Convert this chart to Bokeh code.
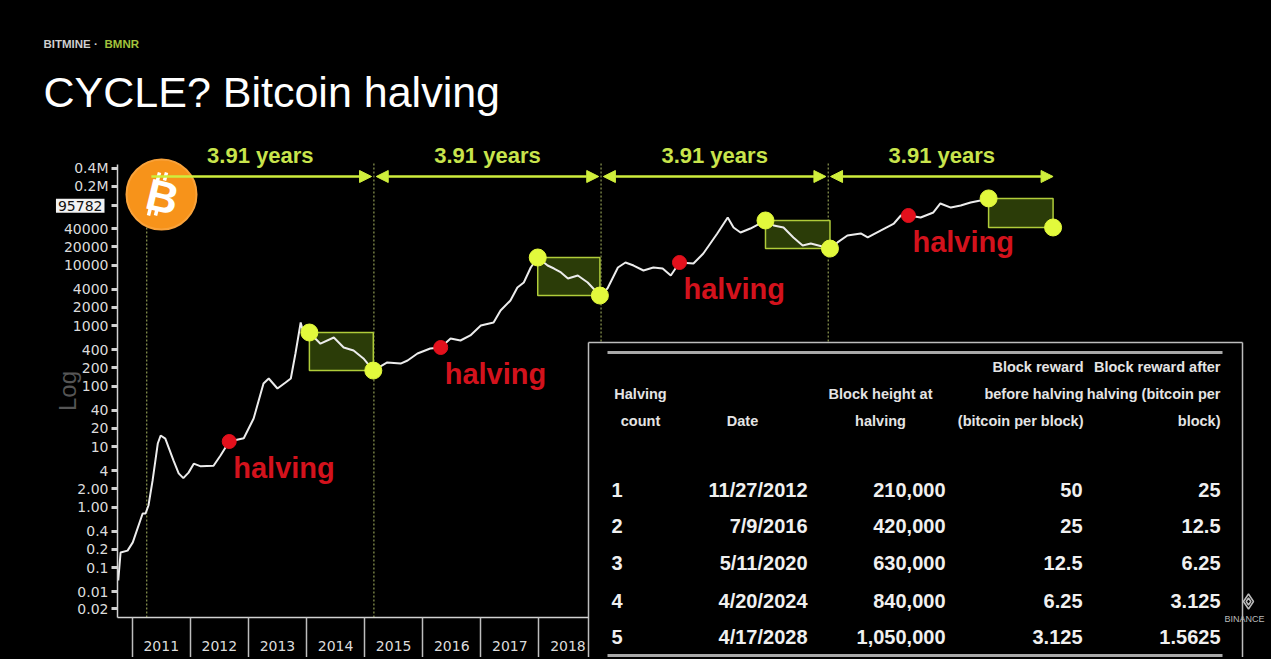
import math
from bokeh.plotting import figure
from bokeh.models import Range1d, LinearScale, FixedTicker, Label, Arrow, NormalHead
from bokeh.core.properties import value
from bokeh.embed import file_html
from bokeh.resources import INLINE

# ---------------- data ----------------
dates = [2010.76, 2010.80, 2010.92, 2011.01, 2011.18, 2011.23, 2011.28, 2011.35, 2011.44, 2011.49,
         2011.57, 2011.71, 2011.80, 2011.88, 2011.97, 2012.06, 2012.18, 2012.40, 2012.52, 2012.67,
         2012.92, 2013.09, 2013.26, 2013.35, 2013.50, 2013.64, 2013.73, 2013.81, 2013.90, 2013.95,
         2014.05, 2014.24, 2014.47, 2014.64, 2014.81, 2014.98, 2015.15, 2015.39, 2015.62, 2015.74,
         2015.91, 2016.13, 2016.31, 2016.48, 2016.65, 2016.82, 2017.00, 2017.22, 2017.34, 2017.51,
         2017.63, 2017.74, 2017.86, 2017.98, 2018.15, 2018.26, 2018.38, 2018.50, 2018.67, 2018.84,
         2019.05, 2019.18, 2019.36, 2019.49, 2019.63, 2019.80, 2019.97, 2020.13, 2020.27, 2020.42,
         2020.66, 2020.83, 2021.07, 2021.25, 2021.35, 2021.47, 2021.64, 2021.90, 2022.04, 2022.21,
         2022.38, 2022.54, 2022.68, 2023.01, 2023.14, 2023.31, 2023.54, 2023.66, 2023.88, 2024.11,
         2024.23, 2024.36, 2024.57, 2024.79, 2024.91, 2025.09, 2025.26, 2025.43, 2025.60, 2025.74]
price = [0.061, 0.177, 0.19, 0.26, 0.78, 0.78, 1.06, 2.7, 11.2, 15.2,
         13.5, 5.9, 3.6, 3.0, 3.7, 5.2, 4.7, 4.8, 7.1, 12.1,
         13.7, 29, 110, 133, 91, 114, 133, 344, 1120, 738,
         766, 500, 633, 433, 386, 285, 180, 245, 235, 264,
         344, 417, 433, 610, 565, 684, 1000, 1120, 1770, 2590,
         4250, 5140, 9100, 13300, 9800, 8750, 7520, 5980, 6700, 5140,
         3130, 4090, 9100, 11000, 9800, 8110, 9100, 8750, 6700, 11000,
         10600, 15500, 33100, 61000, 41700, 34400, 40100, 54400, 45000, 41700,
         28500, 21000, 22700, 18700, 23600, 30800, 33200, 28500, 37100, 48500,
         65800, 65800, 61000, 73800, 104000, 89000, 96200, 108000, 116000, 126000]

halving_dates = [2012.67, 2016.31, 2020.42, 2024.36]
halving_price = [12.1, 433, 11000, 65800]
peak_dates = [2014.05, 2017.98, 2021.90, 2025.74]
peak_price = [766, 13300, 54400, 126000]
trough_dates = [2015.15, 2019.05, 2023.01, 2026.85]
trough_price = [180, 3130, 18700, 41700]

cycle_start = 2011.25
cycle_years = 3.91
cycle_label = "3.91 years"
halving_label = "halving"
current_price = 95782

year_ticks = [2011, 2012, 2013, 2014, 2015, 2016, 2017, 2018]
y_ticks = [0.021, 0.04, 0.1, 0.2, 0.4, 1, 2, 4, 10, 20, 40, 100, 200, 400,
           1000, 2000, 4000, 10000, 20000, 40000, 95782, 200000, 400000]
y_tick_labels = ["0.02", "0.01", "0.1", "0.2", "0.4", "1.00", "2.00", "4", "10", "20", "40", "100", "200", "400",
                 "1000", "2000", "4000", "10000", "20000", "40000", "", "0.2M", "0.4M"]

col_headers = [["Halving", "count"], ["Date"], ["Block height at", "halving"],
               ["Block reward", "before halving", "(bitcoin per block)"],
               ["Block reward after", "halving (bitcoin per", "block)"]]
halving_count = ["1", "2", "3", "4", "5"]
halving_day = ["11/27/2012", "7/9/2016", "5/11/2020", "4/20/2024", "4/17/2028"]
block_height = ["210,000", "420,000", "630,000", "840,000", "1,050,000"]
reward_before = ["50", "25", "12.5", "6.25", "3.125"]
reward_after = ["25", "12.5", "6.25", "3.125", "1.5625"]

# ---------------- axis calibration / geometry ----------------
W, H = 1269, 657
X0_PX, X0_YEAR, PX_PER_YEAR = 131.7, 2011.0, 58.1
Y0_PX, Y0_LOG, PX_PER_DECADE = 325.0, 3.0, 60.5


def year_at(px):
    return X0_YEAR + (px - X0_PX) / PX_PER_YEAR


def log_at(py):
    return Y0_LOG - (py - Y0_PX) / PX_PER_DECADE


AXL, AXB = 117, 617                      # page pixels of the y-axis / x-axis lines
x_axis_year = year_at(AXL)
y_axis_low = 10 ** log_at(AXB)

p = figure(width=W, height=H, y_axis_type="log",
           x_range=Range1d(year_at(0), year_at(W)),
           y_range=Range1d(10 ** log_at(H), 10 ** log_at(0)),
           output_backend="svg", toolbar_location=None,
           min_border_left=0, min_border_right=0, min_border_top=0, min_border_bottom=0,
           background_fill_color="black", border_fill_color="black", outline_line_color=None)
p.title.visible = False
p.grid.visible = False
p.extra_x_ranges = {"px": Range1d(0, W)}
p.extra_y_ranges = {"py": Range1d(H, 0)}
p.extra_x_scales = {"px": LinearScale()}
p.extra_y_scales = {"py": LinearScale()}

AX = "#d2d2d2"
yax = p.yaxis[0]
yax.fixed_location = x_axis_year
yax.ticker = FixedTicker(ticks=y_ticks)
yax.major_label_overrides = dict(zip(y_ticks, y_tick_labels))
yax.bounds = (y_axis_low, 4.5e5)
yax.axis_line_color = AX
yax.axis_line_width = 1.5
yax.major_tick_out = 6
yax.major_tick_in = 0
yax.major_tick_line_width = 3
yax.major_tick_line_color = AX
yax.minor_tick_line_color = None
yax.major_label_text_color = "#dcdcdc"
yax.major_label_text_font = "DejaVu Sans"
yax.major_label_text_font_size = "14px"
yax.major_label_standoff = 3
yax.axis_label = "Log"
yax.axis_label_text_color = "#555555"
yax.axis_label_text_font = "Liberation Sans"
yax.axis_label_text_font_size = "24px"
yax.axis_label_text_font_style = "normal"
yax.axis_label_standoff = -20

xax = p.xaxis[0]
xax.fixed_location = y_axis_low
xax.ticker = FixedTicker(ticks=[y + 0.5 for y in year_ticks], minor_ticks=year_ticks)
xax.major_label_overrides = {y + 0.5: str(y) for y in year_ticks}
xax.bounds = (x_axis_year, 2018.85)
xax.axis_line_color = AX
xax.axis_line_width = 1.5
xax.major_tick_out = 0
xax.major_tick_in = 0
xax.minor_tick_out = 40
xax.minor_tick_in = 0
xax.minor_tick_line_color = "#bdbdbd"
xax.minor_tick_line_width = 1.5
xax.major_label_text_color = "#dcdcdc"
xax.major_label_text_font = "DejaVu Sans"
xax.major_label_text_font_size = "14px"
xax.major_label_standoff = -17

# ---------------- cycle guides ----------------
bounds = [cycle_start + k * cycle_years for k in range(5)]
GREEN = "#cfee3c"
p.segment(x0=bounds[:4], x1=bounds[:4], y0=[AXB] * 4, y1=[163] * 4, y_range_name="py",
          line_color="#8e9a52", line_width=1.2, line_dash="2 2")

# peak -> trough boxes, price line, markers
p.quad(left=peak_dates, right=trough_dates, top=peak_price, bottom=trough_price,
       fill_color="#2b3c08", line_color="#b0cc3a", line_width=1.5)
p.line(dates, price, line_color="#ececec", line_width=2)
p.scatter(halving_dates, halving_price, size=14, fill_color="#e3101c", line_color="#e3101c")
p.scatter(peak_dates + trough_dates, peak_price + trough_price, size=17,
          fill_color="#e2f93c", line_color="#e2f93c")
p.text(x=halving_dates, y=halving_price, text=[halving_label] * 4, x_offset=4, y_offset=27,
       text_align="left", text_baseline="middle", text_color="#d3121c",
       text_font=value("Liberation Sans"), text_font_style="bold", text_font_size="29px")

mids = [(bounds[k] + bounds[k + 1]) / 2 for k in range(4)]
p.text(x=mids, y=[155] * 4, y_range_name="py", text=[cycle_label] * 4,
       text_align="center", text_baseline="middle", text_color="#c8e44c",
       text_font=value("Liberation Sans"), text_font_style="bold", text_font_size="22px")

# bitcoin logo
p.scatter(x=[161], y=[194], x_range_name="px", y_range_name="py", size=70,
          fill_color="#f7931a", line_color="#f9a23a", line_width=2)
p.text(x=[162], y=[196], x_range_name="px", y_range_name="py", text=["B"], angle=-0.24,
       text_align="center", text_baseline="middle", text_color="white",
       text_font=value("Liberation Sans"), text_font_style="bold", text_font_size="44px")
p.segment(x0=[157, 164, 148, 155], y0=[180, 180, 215, 215], x1=[159, 166, 150, 157], y1=[172, 172, 207, 207],
          x_range_name="px", y_range_name="py", line_color="white", line_width=3.5)

for k in range(4):
    p.add_layout(Arrow(x_start=bounds[k] + (0.08 if k == 0 else 0.04), x_end=bounds[k + 1] - 0.04,
                       y_start=176, y_end=176, y_range_name="py",
                       start=None if k == 0 else NormalHead(size=12, fill_color=GREEN, line_color=GREEN),
                       end=NormalHead(size=12, fill_color=GREEN, line_color=GREEN),
                       line_color=GREEN, line_width=2.5))

# ---------------- table ----------------
p.quad(left=[588], right=[1242], top=[342], bottom=[H], x_range_name="px", y_range_name="py",
       fill_color="black", line_color=None)


def rule(x0, y0, x1, y1, color, width):
    p.segment(x0=[x0], y0=[y0], x1=[x1], y1=[y1], x_range_name="px", y_range_name="py",
              line_color=color, line_width=width)


rule(588, 342, 1242, 342, "#bdbdbd", 1.5)
rule(588, 342, 588, H, "#bdbdbd", 1.5)
rule(1242, 342, 1242, H, "#bdbdbd", 1.5)
rule(607, 352, 1222, 352, "#a8a8a8", 3)
rule(607, 655, 1222, 655, "#a8a8a8", 3)


def lab(x, y, text, size, color, align="left", bold=False, font="Liberation Sans", **kw):
    p.add_layout(Label(x=x, y=y, x_range_name="px", y_range_name="py", text=text,
                       text_font=font, text_font_size=f"{size}px", text_color=color,
                       text_align=align, text_baseline="middle",
                       text_font_style="bold" if bold else "normal", **kw))


head_anchor = [(640, "center"), (742, "center"), (880, "center"), (1083, "right"), (1220, "right")]
for (hx, ha), lines in zip(head_anchor, col_headers):
    n = len(lines)
    for i, t in enumerate(lines):
        lab(hx, 420 - (n - 1 - i) * 27, t, 14.5, "#e4e4e4", ha, True)

data_anchor = [(611, "left"), (807, "right"), (945, "right"), (1082, "right"), (1220, "right")]
row_y = [489, 525, 562, 600, 636]
for (dx, da), col in zip(data_anchor, [halving_count, halving_day, block_height, reward_before, reward_after]):
    for ry, t in zip(row_y, col):
        lab(dx, ry, t, 20, "#f0f0f0", da, True)

# ---------------- header texts ----------------
lab(43, 43, "BITMINE \u00b7", 11.5, "#cfcfcf", "left", True)
lab(104, 43, "BMNR", 11.5, "#a3c23c", "left", True)
lab(43, 91, "CYCLE? Bitcoin halving", 43, "#ffffff", "left", False)

# current price marker on the axis
p.add_layout(Label(x=104, y=current_price, x_range_name="px", text=str(current_price),
                   text_font="DejaVu Sans", text_font_size="14px", text_color="#111111",
                   text_align="right", text_baseline="middle",
                   background_fill_color="#f2f2f2", padding=2))

# watermark
p.scatter(x=[1248, 1248], y=[601, 601], x_range_name="px", y_range_name="py", marker="diamond",
          size=[15, 7], fill_color=None, line_color="#bbbbbb", line_width=1.5)
lab(1244, 618, "BINANCE", 9, "#bbbbbb", "center", False)

html = file_html(p, INLINE, title="CYCLE? Bitcoin halving")
html = html.replace("<head>", "<head><style>html,body{background:#000000;}</style>", 1)
open("out.html", "w").write(html)
